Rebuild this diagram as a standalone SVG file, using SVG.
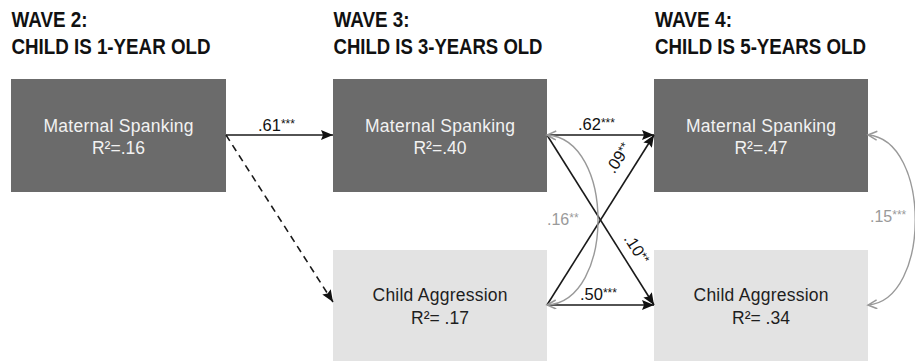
<svg xmlns="http://www.w3.org/2000/svg" width="915" height="363" viewBox="0 0 915 363">
<style>
.title{font-family:"Liberation Sans Narrow","Liberation Sans",Arial,sans-serif;font-weight:bold;font-size:22px;fill:#111}
.dark{fill:#6b6b6b}
.light{fill:#e3e3e3}
.tw{font-family:"Liberation Sans",Arial,sans-serif;font-size:17.5px;fill:#f2f2f2;text-anchor:middle}
.tb{font-family:"Liberation Sans",Arial,sans-serif;font-size:17.5px;fill:#1e1e1e;text-anchor:middle}
.lab{font-family:"Liberation Sans",Arial,sans-serif;font-size:16.5px;fill:#111}
.glab{font-family:"Liberation Sans",Arial,sans-serif;font-size:16px;fill:#9a9a9a}
.st{font-size:12px}
.blk{stroke:#1a1a1a;stroke-width:1.6;fill:none;marker-end:url(#ah)}
.gry{stroke:#999;stroke-width:1.4;fill:none;marker-start:url(#gh);marker-end:url(#gh)}
</style>
<defs>
<marker id="ah" markerUnits="userSpaceOnUse" markerWidth="13" markerHeight="11" refX="12" refY="5" orient="auto">
<path d="M0,0 L12,5 L0,10 L2,5 Z" fill="#111"/>
</marker>
<marker id="gh" markerUnits="userSpaceOnUse" markerWidth="12" markerHeight="12" refX="10" refY="5" orient="auto-start-reverse">
<path d="M1,0.5 L10,5 L1,9.5" fill="none" stroke="#999" stroke-width="1.5"/>
</marker>
</defs>
<rect width="915" height="363" fill="#ffffff"/>
<g id="titles">
<text class="title" x="11.5" y="26.5" textLength="76" lengthAdjust="spacingAndGlyphs">WAVE 2:</text>
<text class="title" x="11.5" y="54" textLength="199" lengthAdjust="spacingAndGlyphs">CHILD IS 1-YEAR OLD</text>
<text class="title" x="333.5" y="26.5" textLength="76" lengthAdjust="spacingAndGlyphs">WAVE 3:</text>
<text class="title" x="333.5" y="54" textLength="209" lengthAdjust="spacingAndGlyphs">CHILD IS 3-YEARS OLD</text>
<text class="title" x="655" y="26.5" textLength="77" lengthAdjust="spacingAndGlyphs">WAVE 4:</text>
<text class="title" x="655" y="54" textLength="211" lengthAdjust="spacingAndGlyphs">CHILD IS 5-YEARS OLD</text>
</g>
<g id="ms2">
<rect class="dark" x="11" y="79" width="215" height="113"/>
<text class="tw" x="118.5" y="131.5" textLength="150">Maternal Spanking</text>
<text class="tw" x="118.5" y="153.5">R²=.16</text>
</g>
<g id="ms3">
<rect class="dark" x="333" y="79" width="214" height="113"/>
<text class="tw" x="440" y="131.5" textLength="150">Maternal Spanking</text>
<text class="tw" x="440" y="153.5">R²=.40</text>
</g>
<g id="ms4">
<rect class="dark" x="654" y="79" width="214" height="113"/>
<text class="tw" x="761" y="131.5" textLength="150">Maternal Spanking</text>
<text class="tw" x="761" y="153.5">R²=.47</text>
</g>
<g id="ca3">
<rect class="light" x="333" y="250" width="214" height="111"/>
<text class="tb" x="440" y="301" textLength="135">Child Aggression</text>
<text class="tb" x="440" y="324">R²= .17</text>
</g>
<g id="ca4">
<rect class="light" x="654" y="250" width="214" height="111"/>
<text class="tb" x="761" y="301" textLength="135">Child Aggression</text>
<text class="tb" x="761" y="324">R²= .34</text>
</g>
<g id="connectors">
<line class="blk" x1="226" y1="135" x2="333" y2="135"/>
<line class="blk" x1="226" y1="135" x2="333" y2="302" stroke-dasharray="7,5"/>
<line class="blk" x1="547" y1="135" x2="654" y2="135"/>
<line class="blk" x1="547" y1="305" x2="654" y2="305" stroke-width="2.2"/>
<line class="blk" x1="547" y1="305" x2="654" y2="135"/>
<line class="blk" x1="547" y1="135" x2="654" y2="305"/>
<path class="gry" d="M547,135 C615,139 615,301 547,305"/>
<path class="gry" d="M868,135 C931,140 931,300 868,305"/>
<text class="lab" x="258" y="131">.61<tspan class="st" dy="-3">***</tspan></text>
<text class="lab" x="578" y="130">.62<tspan class="st" dy="-3">***</tspan></text>
<text class="lab" x="580" y="300">.50<tspan class="st" dy="-3">***</tspan></text>
<text class="lab" transform="translate(623,161) rotate(-57.4)" text-anchor="middle">.09<tspan class="st" dy="-3">**</tspan></text>
<text class="lab" transform="translate(632,252) rotate(57.4)" text-anchor="middle">.10<tspan class="st" dy="-3">**</tspan></text>
<text class="glab" x="547" y="225">.16<tspan class="st" dy="-3">**</tspan></text>
<text class="glab" x="870" y="222">.15<tspan class="st" dy="-3">***</tspan></text>
</g>
</svg>
